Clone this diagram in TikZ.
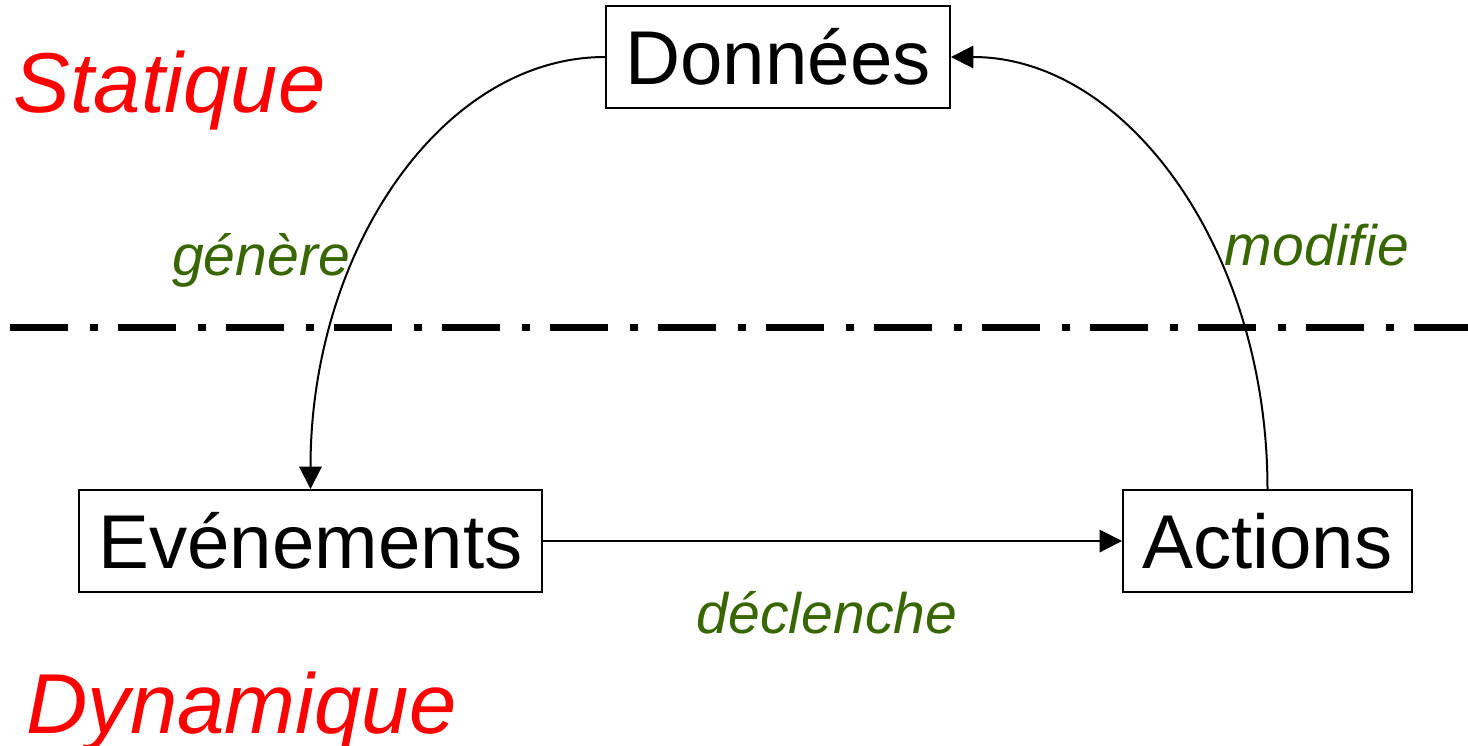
\documentclass[tikz,border=0pt]{standalone}
\usepackage{fontspec}
\setmainfont{Liberation Sans}
\usetikzlibrary{arrows.meta}
\definecolor{rouge}{RGB}{255,0,0}
\definecolor{vert}{RGB}{56,102,0}

\begin{document}
\begin{tikzpicture}[x=0.02cm, y=-0.02cm]
  \tikzset{bloc/.style={draw, line width=0.04cm, minimum height=2.04cm, inner sep=0pt, font=\fontsize{43.4}{50}\selectfont}}
  \tikzset{verbe/.style={text=vert, anchor=base, inner sep=0pt, font=\fontsize{32.5}{38}\selectfont\itshape}}
  \tikzset{zone/.style={text=rouge, anchor=base, inner sep=0pt, font=\fontsize{48.4}{56}\selectfont\itshape}}
  \tikzset{fleche/.style={line width=0.04cm, -{Triangle[length=0.45cm, width=0.45cm]}}}
  \tikzset{separation/.style={line width=0.14cm, dash pattern=on 1.16cm off 0.44cm on 0.16cm off 0.4cm}}
  \useasboundingbox (0,0) rectangle (1468,745);
  % les trois blocs
  \node[bloc, minimum width=6.88cm] (donnees) at (778,57) {Données};
  \node[bloc, minimum width=9.26cm] (evt) at (310.5,541) {Evénements};
  \node[bloc, minimum width=5.78cm] (actions) at (1267.5,541) {Actions};
  % frontiere statique / dynamique
  \coordinate (sepg) at (10,327);
  \coordinate (sepd) at (1468,327);
  \draw[separation] (sepg) -- (sepd);
  \node[zone] (statique) at (169.5,112) {Statique};
  \node[zone] (dynamique) at (241.5,733) {Dynamique};
  % le cycle
  \draw[fleche] (donnees.west) .. controls +(-163,0) and +(0,-239) .. (evt.north);
  \draw[fleche] (evt) -- (actions);
  \draw[fleche] (actions.north) .. controls +(0,-239) and +(175.5,0) .. (donnees.east);
  \node[verbe] (genere) at (261,275) {génère};
  \node[verbe] (declenche) at (827,633) {déclenche};
  \node[verbe] (modifie) at (1317,265) {modifie};
\end{tikzpicture}
\end{document}
